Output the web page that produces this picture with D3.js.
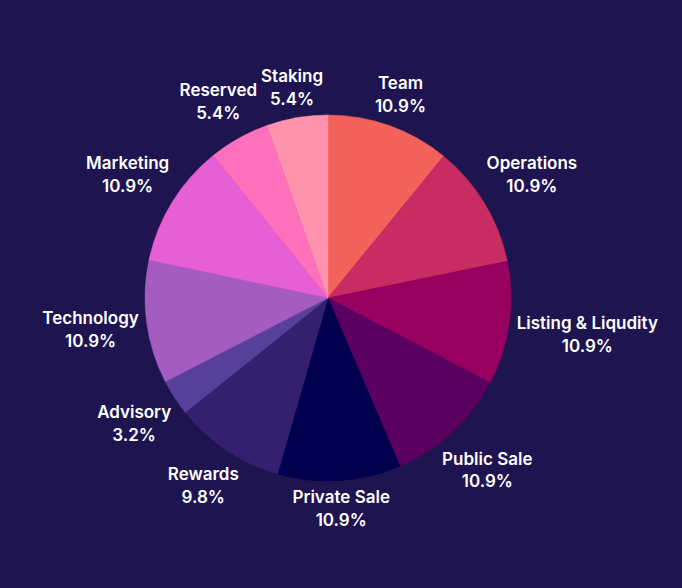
<!DOCTYPE html>
<html>
<head>
<meta charset="utf-8">
<script src="https://cdn.jsdelivr.net/npm/d3@7"></script>
<style>
  html, body { margin: 0; padding: 0; background: #1e1450; }
  svg { display: block; }
</style>
</head>
<body>
<div id="chart"></div>
<script>
const width = 682;
const height = 588;

// token allocation, clockwise from top
const labels = ["Team", "Operations", "Listing & Liqudity", "Public Sale", "Private Sale",
                "Rewards", "Advisory", "Technology", "Marketing", "Reserved", "Staking"];
const values = [10.9, 10.9, 10.9, 10.9, 10.9, 9.8, 3.2, 10.9, 10.9, 5.4, 5.4];
const colors = ["#f2625b", "#c92b63", "#98005f", "#5a0060", "#00004f",
                "#34206e", "#56409a", "#a45cc1", "#e65fd4", "#fe6fbc", "#ff93ae"];

const cx = 328, cy = 298, radius = 183;
const offset = 4;

const svg = d3.select("#chart").append("svg")
    .attr("width", width)
    .attr("height", height);

svg.append("rect")
    .attr("width", width)
    .attr("height", height)
    .attr("fill", "#1e1450");

const pie = d3.pie().sort(null).value(d => d)(values);
const arc = d3.arc().innerRadius(0).outerRadius(radius);

const g = svg.append("g").attr("transform", `translate(${cx},${cy})`);

g.selectAll("path")
  .data(pie)
  .join("path")
    .attr("d", arc)
    .attr("fill", (d, i) => colors[i])
    .attr("stroke", (d, i) => colors[i])
    .attr("stroke-width", 0.5);

// labels sit just outside the rim, pushed out by their own box size
const lab = g.append("g")
    .attr("font-family", "Inter, 'Noto Sans', sans-serif")
    .attr("font-weight", 600)
    .attr("font-size", 17)
    .attr("fill", "#ffffff")
    .attr("text-anchor", "middle");

pie.forEach((d, i) => {
  const t = lab.append("text");
  t.append("tspan").attr("x", 0).attr("y", -11.5).attr("dy", "0.35em").text(labels[i]);
  t.append("tspan").attr("x", 0).attr("y", 11.5).attr("dy", "0.35em").text(values[i] + "%");
  const bb = t.node().getBBox();
  const a = (d.startAngle + d.endAngle) / 2;
  const sx = Math.sin(a), sy = -Math.cos(a);
  const support = Math.abs(sx) * (bb.width / 2 + 2) + Math.abs(sy) * 21;
  const r = radius + offset + support;
  t.attr("transform", `translate(${sx * r},${sy * r})`);
});
</script>
</body>
</html>
